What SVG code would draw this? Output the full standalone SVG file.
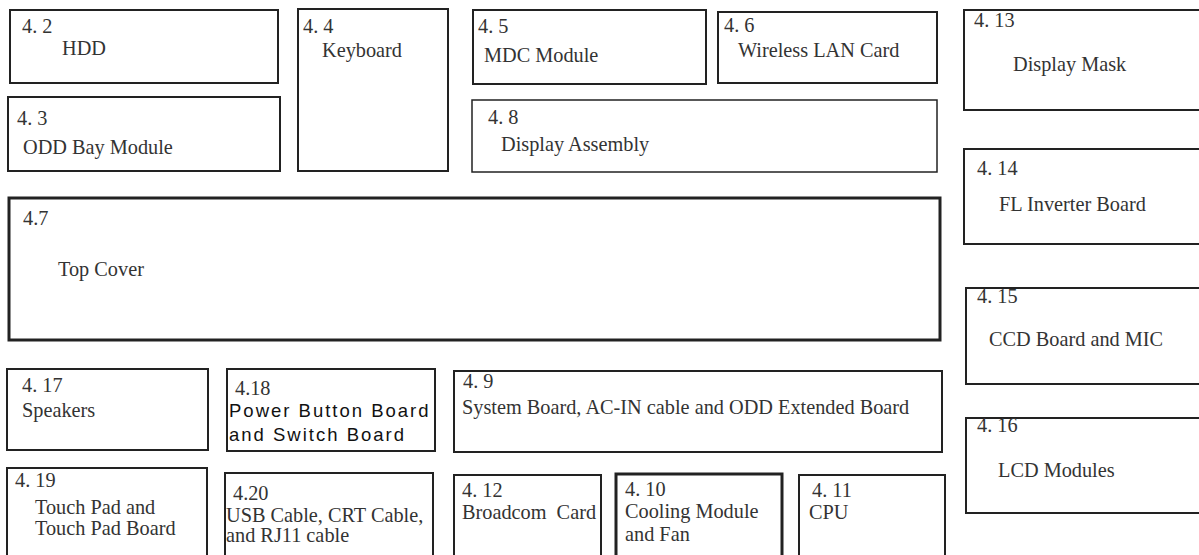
<svg xmlns="http://www.w3.org/2000/svg" width="1199" height="555" viewBox="0 0 1199 555">
<style>
rect{fill:#fff;stroke:#222;stroke-width:2}
rect.thick{stroke-width:3}
rect.thin{stroke-width:1.5}
text{font-family:"Liberation Serif","Times New Roman",serif;font-size:20.3px;fill:#333}
text.sans{font-family:"Liberation Sans",Arial,sans-serif;font-size:18.5px;letter-spacing:2px;fill:#111}
</style>
<rect x="0" y="0" width="1199" height="555" style="fill:#fff;stroke:none"/>
<g id="n4_2"><rect x="10" y="10" width="268" height="73"/><text x="22" y="33">4. 2</text><text x="62" y="55">HDD</text></g>
<g id="n4_3"><rect x="8" y="97" width="272" height="74"/><text x="17" y="125">4. 3</text><text x="23" y="154">ODD Bay Module</text></g>
<g id="n4_4"><rect x="298" y="9" width="150" height="162"/><text x="303" y="33">4. 4</text><text x="322" y="57">Keyboard</text></g>
<g id="n4_5"><rect x="473" y="10" width="233" height="74"/><text x="478" y="33">4. 5</text><text x="484" y="62">MDC Module</text></g>
<g id="n4_6"><rect x="718" y="12" width="219" height="71"/><text x="724" y="32">4. 6</text><text x="738" y="57">Wireless LAN Card</text></g>
<g id="n4_8"><rect class="thin" x="472" y="100" width="465" height="72"/><text x="488" y="124">4. 8</text><text x="501" y="151">Display Assembly</text></g>
<g id="n4_7"><rect class="thick" x="9" y="198" width="931" height="142"/><text x="23" y="225">4.7</text><text x="58" y="276">Top Cover</text></g>
<g id="n4_13"><rect x="964" y="10" width="245" height="100"/><text x="974" y="27">4. 13</text><text x="1013" y="71">Display Mask</text></g>
<g id="n4_14"><rect x="964" y="149" width="245" height="95"/><text x="977" y="175">4. 14</text><text x="999" y="211">FL Inverter Board</text></g>
<g id="n4_15"><rect x="966" y="288" width="245" height="96"/><text x="977" y="303">4. 15</text><text x="989" y="346">CCD Board and MIC</text></g>
<g id="n4_16"><rect x="966" y="418" width="245" height="95"/><text x="977" y="432">4. 16</text><text x="998" y="477">LCD Modules</text></g>
<g id="n4_17"><rect x="7" y="369" width="201" height="81"/><text x="22" y="392">4. 17</text><text x="22" y="417">Speakers</text></g>
<g id="n4_18"><rect x="227" y="369" width="208" height="82"/><text x="235" y="395">4.18</text><text class="sans" x="229" y="417">Power Button Board</text><text class="sans" x="229" y="441">and Switch Board</text></g>
<g id="n4_9"><rect x="454" y="371" width="488" height="81"/><text x="463" y="388">4. 9</text><text x="462" y="414">System Board, AC-IN cable and ODD Extended Board</text></g>
<g id="n4_19"><rect x="7" y="468" width="200" height="100"/><text x="15" y="487">4. 19</text><text x="35" y="514">Touch Pad and</text><text x="35" y="535">Touch Pad Board</text></g>
<g id="n4_20"><rect x="225" y="473" width="208" height="95"/><text x="233" y="500">4.20</text><text x="226" y="522">USB Cable, CRT Cable,</text><text x="226" y="542">and RJ11 cable</text></g>
<g id="n4_12"><rect x="454" y="475" width="147" height="93"/><text x="462" y="497">4. 12</text><text x="462" y="519" xml:space="preserve">Broadcom  Card</text></g>
<g id="n4_10"><rect class="thick" x="616" y="474" width="166" height="94"/><text x="625" y="496">4. 10</text><text x="625" y="518">Cooling Module</text><text x="625" y="541">and Fan</text></g>
<g id="n4_11"><rect x="799" y="475" width="146" height="93"/><text x="812" y="497">4. 11</text><text x="809" y="519">CPU</text></g>
<g id="connectors"></g>
</svg>
